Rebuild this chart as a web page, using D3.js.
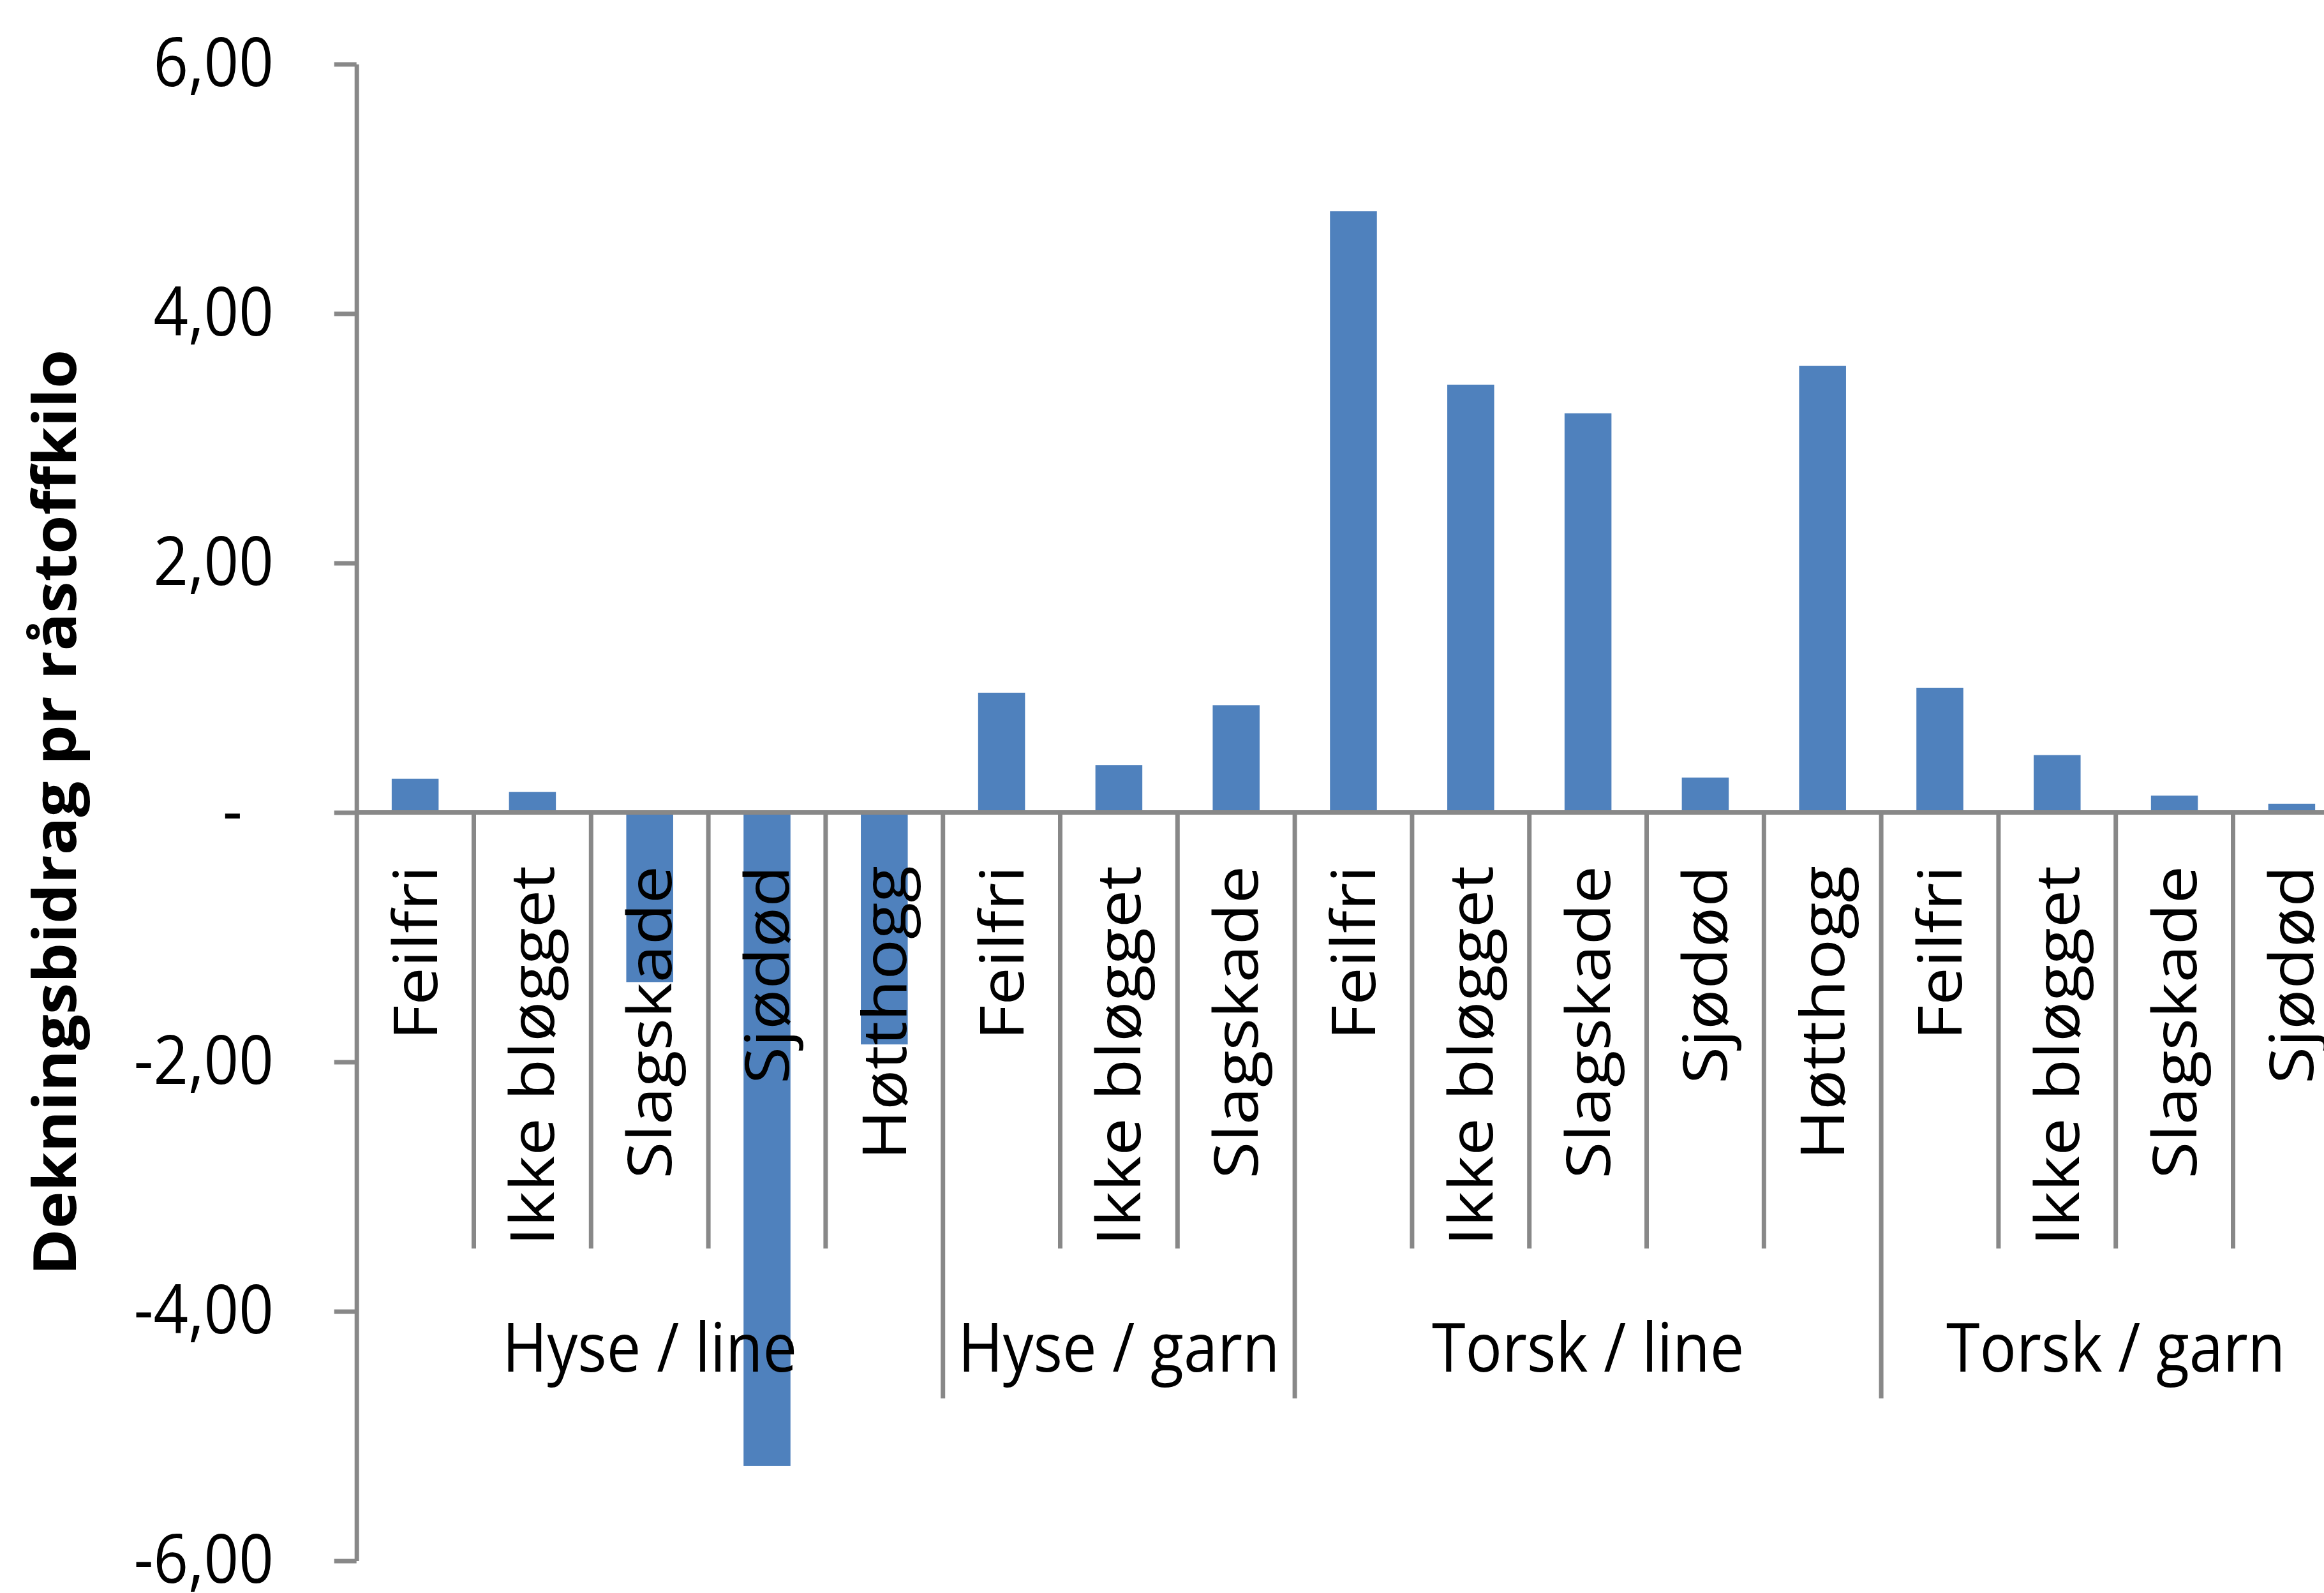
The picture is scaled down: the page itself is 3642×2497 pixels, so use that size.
<!DOCTYPE html>
<html>
<head>
<meta charset="utf-8">
<script src="https://cdn.jsdelivr.net/npm/d3@7"></script>
<style>
  body { margin: 0; background: #fff; }
  text { font-family: "Open Sans", "Noto Sans", sans-serif; fill: #000; }
</style>
</head>
<body>
<div id="chart"></div>
<script>
// data
const groups = ["Hyse / line", "Hyse / garn", "Torsk / line", "Torsk / garn"]
const hyseLine = ["Feilfri", "Ikke bløgget", "Slagskade", "Sjødød", "Høtthogg"]
const hyseGarn = ["Feilfri", "Ikke bløgget", "Slagskade"]
const torskLine = ["Feilfri", "Ikke bløgget", "Slagskade", "Sjødød", "Høtthogg"]
const torskGarn = ["Feilfri", "Ikke bløgget", "Slagskade", "Sjødød"]
const hyseLineValues = [0.27, 0.165, -1.36, -5.24, -1.86]
const hyseGarnValues = [0.96, 0.38, 0.86]
const torskLineValues = [4.82, 3.43, 3.20, 0.28, 3.58]
const torskGarnValues = [1.00, 0.46, 0.135, 0.07]
const yTicks = [-6, -4, -2, 0, 2, 4, 6]

const groupCats = [hyseLine, hyseGarn, torskLine, torskGarn]
const groupVals = [hyseLineValues, hyseGarnValues, torskLineValues, torskGarnValues]

const data = []
groupCats.forEach((cats, gi) => {
  cats.forEach((c, i) => data.push({ id: gi + "-" + i, group: groups[gi], cat: c, value: groupVals[gi][i] }))
})

// sizes
const width = 3642
const height = 2497
const plotLeft = 558.7
const step = 183.8
const plotRight = plotLeft + step * data.length
const yTop = 100.5
const yBottom = 2446.5
const fontSize = 106
const sx = 0.9
const grey = "#888888"

const svg = d3.select("#chart").append("svg").attr("width", width).attr("height", height)
svg.append("rect").attr("width", width).attr("height", height).attr("fill", "#fff")

// scales
const x = d3.scaleBand().domain(data.map(d => d.id)).range([plotLeft, plotRight]).paddingInner(0.6).paddingOuter(0.3)
const y = d3.scaleLinear().domain([-6, 6]).range([yBottom, yTop])

// bars
svg.append("g").selectAll("rect").data(data).enter().append("rect")
  .attr("x", d => x(d.id))
  .attr("width", x.bandwidth())
  .attr("y", d => y(Math.max(0, d.value)))
  .attr("height", d => Math.abs(y(d.value) - y(0)))
  .attr("fill", "#4f81bd")

// y axis
const locale = d3.formatLocale({ decimal: ",", thousands: " ", grouping: [3], currency: ["", ""], minus: "-" })
const fmt = locale.format(".2f")
const yAxis = d3.axisLeft(y).tickValues(yTicks).tickSize(35).tickSizeOuter(0).tickPadding(95)
  .tickFormat(d => d === 0 ? "-" : fmt(d))
const yAxisGroup = svg.append("g").attr("transform", `translate(${plotLeft}, 0)`).call(yAxis)
yAxisGroup.select(".domain").attr("stroke", grey).attr("stroke-width", 7)
yAxisGroup.selectAll(".tick line").attr("stroke", grey).attr("stroke-width", 7)
yAxisGroup.selectAll(".tick text")
  .attr("x", 0)
  .attr("transform", d => `translate(${d === 0 ? -179 : -130},0) scale(${sx},1)`)
  .attr("font-size", fontSize)
  .attr("font-family", null)
yAxisGroup.attr("font-family", null)

// category separators
const sepGroup = svg.append("g").attr("stroke", grey).attr("stroke-width", 7)
let idx = 0
const groupBounds = []
groupCats.forEach((cats, gi) => {
  const start = plotLeft + idx * step
  cats.forEach((c, i) => {
    if (i > 0) {
      sepGroup.append("line").attr("x1", start + i * step).attr("x2", start + i * step)
        .attr("y1", y(0)).attr("y2", 1957)
    }
  })
  idx += cats.length
  const end = plotLeft + idx * step
  groupBounds.push([start, end])
  sepGroup.append("line").attr("x1", end).attr("x2", end).attr("y1", y(0)).attr("y2", 2192)
})

// zero line
svg.append("line").attr("x1", plotLeft).attr("x2", plotRight).attr("y1", y(0)).attr("y2", y(0))
  .attr("stroke", grey).attr("stroke-width", 7)

// category labels
svg.append("g").selectAll("text").data(data).enter().append("text")
  .attr("transform", d => `translate(${x(d.id) + x.bandwidth() / 2}, 1357) scale(${sx},1) rotate(-90)`)
  .attr("text-anchor", "end")
  .attr("dy", "0.357em")
  .attr("font-size", fontSize)
  .text(d => d.cat)

// group labels
svg.append("g").selectAll("text").data(groups).enter().append("text")
  .attr("transform", (d, i) => `translate(${(groupBounds[i][0] + groupBounds[i][1]) / 2}, 2150) scale(${sx},1)`)
  .attr("text-anchor", "middle")
  .attr("font-size", fontSize)
  .text(d => d)

// title
svg.append("text")
  .attr("transform", `translate(119, ${(yTop + yBottom) / 2}) scale(0.95,1) rotate(-90)`)
  .attr("text-anchor", "middle")
  .attr("font-size", 99)
  .attr("font-weight", "bold")
  .text("Dekningsbidrag pr råstoffkilo")
</script>
</body>
</html>
